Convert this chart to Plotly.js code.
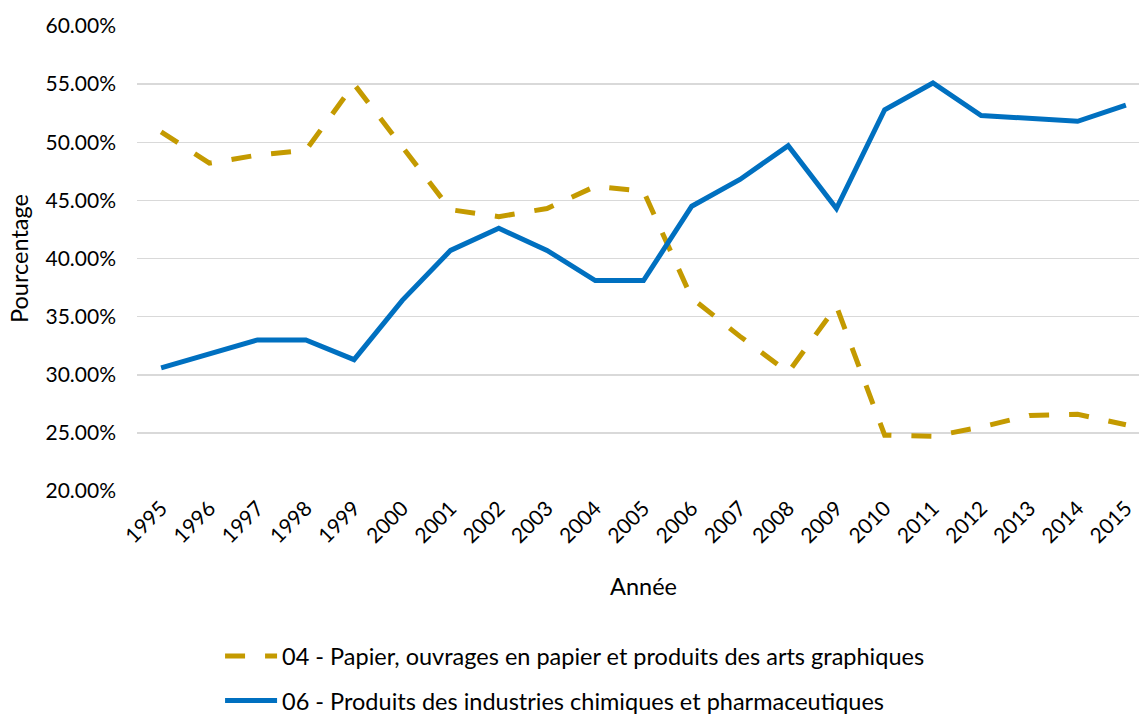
<!DOCTYPE html>
<html>
<head>
<meta charset="utf-8">
<script src="https://cdn.plot.ly/plotly-3.0.1.min.js"></script>
<style>
html,body{margin:0;padding:0;overflow:hidden;background:#fff;}
#chart{width:1152px;height:740px;}
</style>
</head>
<body>
<div id="chart"></div>
<script>
const years = ['1995','1996','1997','1998','1999','2000','2001','2002','2003','2004','2005','2006','2007','2008','2009','2010','2011','2012','2013','2014','2015'];
const papier = [50.9,48.2,48.9,49.3,55.0,49.6,44.2,43.6,44.3,46.2,45.8,36.6,33.3,30.2,35.9,24.8,24.7,25.5,26.5,26.6,25.7];
const chimie = [30.6,31.8,33.0,33.0,31.3,36.4,40.7,42.6,40.7,38.1,38.1,44.5,46.8,49.7,44.3,52.8,55.1,52.3,52.0,51.8,53.2];
const name1 = '04 - Papier, ouvrages en papier et produits des arts graphiques';
const name2 = '06 - Produits des industries chimiques et pharmaceutiques';

const FONT = 'Lato, "Open Sans", sans-serif';
const traces = [
  {x: years, y: papier.map(v => v/100), name: name1, type: 'scatter', mode: 'lines',
   legendgroup: 'a', line: {color: '#C49A00', width: 5, dash: '20px,20px'}},
  {x: years, y: chimie.map(v => v/100), name: name2, type: 'scatter', mode: 'lines',
   legendgroup: 'b', line: {color: '#0070C0', width: 5}}
];
const layout = {
  width: 1152, height: 740,
  margin: {l: 137, r: 2, t: 26, b: 249},
  paper_bgcolor: '#fff', plot_bgcolor: '#fff',
  font: {family: FONT, size: 21, color: '#000'},
  showlegend: true,
  xaxis: {
    type: 'category', range: [-0.5, 20.5], automargin: false,
    tickangle: -45, showgrid: false, zeroline: false, showline: false,
    ticks: '', tickfont: {size: 21},
    title: {text: 'Année', font: {size: 23.5}, standoff: 32}
  },
  yaxis: {
    range: [0.2, 0.6], dtick: 0.05, tickformat: '.2%', automargin: false,
    showgrid: true, gridcolor: '#D9D9D9', gridwidth: 1.5,
    zeroline: false, showline: false, ticks: '',
    ticklabelstandoff: 20, tickfont: {size: 21},
    title: {text: 'Pourcentage', font: {size: 23.5}, standoff: 10}
  },
  legend: {
    orientation: 'v',
    x: 0.082, xanchor: 'left', y: -0.308, yanchor: 'top',
    traceorder: 'grouped', tracegroupgap: 11, font: {size: 23.5},
    itemwidth: 52, bgcolor: 'rgba(0,0,0,0)'
  }
};
Plotly.newPlot('chart', traces, layout, {displayModeBar: false, staticPlot: true});
</script>
</body>
</html>
